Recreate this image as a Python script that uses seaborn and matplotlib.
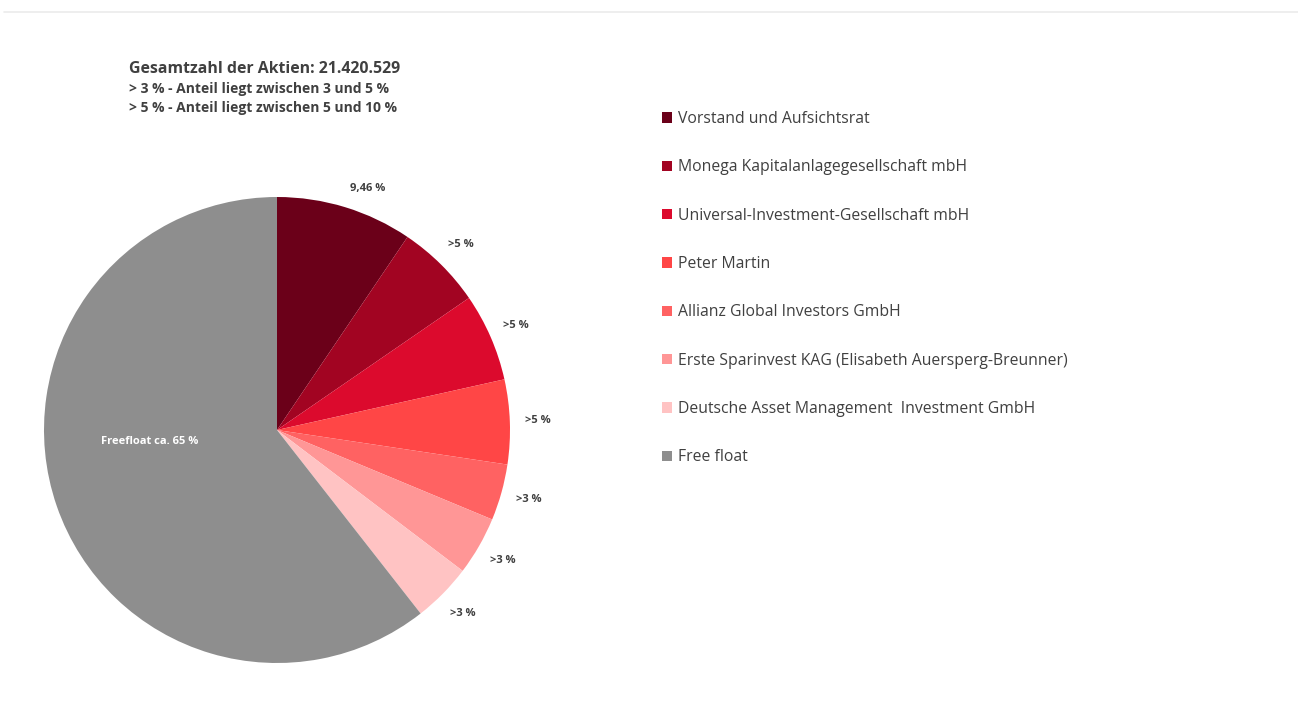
import matplotlib
matplotlib.use("Agg")
import matplotlib.pyplot as plt
import matplotlib.patches as mpatches
from matplotlib.lines import Line2D
import seaborn as sns

# ---- data ----
holders = [
    "Vorstand und Aufsichtsrat",
    "Monega Kapitalanlagegesellschaft mbH",
    "Universal-Investment-Gesellschaft mbH",
    "Peter Martin",
    "Allianz Global Investors GmbH",
    "Erste Sparinvest KAG (Elisabeth Auersperg-Breunner)",
    "Deutsche Asset Management  Investment GmbH",
    "Free float",
]
shares = [9.46, 5.95, 6.10, 5.86, 3.90, 4.06, 4.10, 60.57]
slice_labels = ["9,46 %", ">5 %", ">5 %", ">5 %", ">3 %", ">3 %", ">3 %", ""]
freefloat_label = "Freefloat ca. 65 %"
colors = ["#6B0019", "#A20422", "#DC0A2D", "#FF4646", "#FF6262",
          "#FF9696", "#FFC3C3", "#8E8E8E"]
header_title = "Gesamtzahl der Aktien: 21.420.529"
header_lines = ["> 3 % - Anteil liegt zwischen 3 und 5 %",
                "> 5 % - Anteil liegt zwischen 5 und 10 %"]

sns.set_theme(style="white")
plt.rcParams["font.family"] = ["Open Sans", "DejaVu Sans"]
text_color = "#404040"

W, H = 1298, 704
fig = plt.figure(figsize=(W / 100, H / 100), dpi=100)
fig.patch.set_facecolor("white")

# pie axes: center (277, 430), radius 233 px
cx, cy, r = 277, 430, 233
ax = fig.add_axes([(cx - r) / W, (H - cy - r) / H, 2 * r / W, 2 * r / H])
wedges, texts = ax.pie(
    shares, colors=colors, labels=slice_labels, startangle=90,
    counterclock=False, labeldistance=1.12, radius=1.0,
    wedgeprops=dict(linewidth=0),
    textprops=dict(fontsize=8, fontweight="bold", color=text_color),
)
for t in texts:
    t.set_ha("center")
    t.set_va("center")
# first label sits a bit further round in the reference
x0, y0 = texts[0].get_position()
texts[0].set_position((x0 + 0.06, y0 - 0.035))
ax.text(-0.545, -0.05, freefloat_label, ha="center", va="center",
        fontsize=8, fontweight="bold", color="white")
ax.set_xlim(-1, 1)
ax.set_ylim(-1, 1)
ax.set_aspect("equal")
ax.axis("off")

# header text
fig.text(129 / W, 1 - 69 / H, header_title, fontsize=11.4, fontweight="bold",
         color=text_color, ha="left", va="center")
for i, line in enumerate(header_lines):
    fig.text(129 / W, 1 - (89 + 19 * i) / H, line, fontsize=10, fontweight="bold",
             color=text_color, ha="left", va="center")

# legend
handles = [mpatches.Patch(facecolor=c, edgecolor="none", label=l)
           for c, l in zip(colors, holders)]
leg = fig.legend(handles=handles, loc="upper left",
                 bbox_to_anchor=(662 / W, 1 - 111 / H), frameon=False,
                 fontsize=11.3, handlelength=0.65, handleheight=0.65,
                 handletextpad=0.35, labelspacing=2.06, borderaxespad=0,
                 borderpad=0, labelcolor=text_color)

# top thin separator line
fig.add_artist(Line2D([4 / W, 1], [1 - 11.5 / H, 1 - 11.5 / H],
                      transform=fig.transFigure, color="#EBEBEB", linewidth=1.2))

fig.savefig("out.png", dpi=100, facecolor="white")
